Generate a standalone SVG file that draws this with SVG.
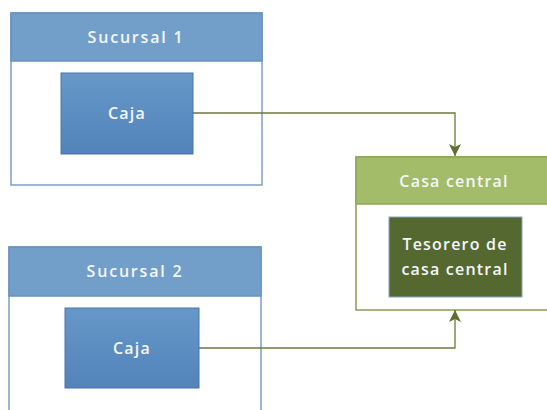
<svg xmlns="http://www.w3.org/2000/svg" width="547" height="410" viewBox="0 0 547 410">
<defs>
<linearGradient id="gb" x1="0" y1="0" x2="0" y2="1">
<stop offset="0" stop-color="#6798c9"/>
<stop offset="1" stop-color="#5283ba"/>
</linearGradient>
<marker id="ah" viewBox="0 0 12 12" refX="12" refY="6" markerWidth="12" markerHeight="12" markerUnits="userSpaceOnUse" orient="auto">
<path d="M0,0 L12,6 L0,12 L3,6 Z" fill="#5f6f30"/>
</marker>
<style>
.outer{fill:#ffffff;stroke:#7f9fc4;stroke-width:1.5}
.hdrb{fill:#729fca;stroke:#6a93bf;stroke-width:1.5}
.caja{fill:url(#gb);stroke:#4a75a8;stroke-width:1}
.outerg{fill:#ffffff;stroke:#8a9a58;stroke-width:1.5}
.hdrg{fill:#a2bc69;stroke:#8ea656;stroke-width:1.5}
.tes{fill:#556830;stroke:#8aa6c0;stroke-width:1}
.t{font-family:"Open Sans","Liberation Sans",sans-serif;font-size:16px;font-weight:600;fill:#f4f6fa;text-anchor:middle;letter-spacing:1.2px}
.h{letter-spacing:1.8px}
.conn{fill:none;stroke:#6b7a3e;stroke-width:1.3}
</style>
</defs>
<g id="sucursal1">
<rect class="outer" x="11" y="13" width="251" height="172"/>
<rect class="hdrb" x="11" y="13" width="251" height="48"/>
<text class="t h" x="136" y="43">Sucursal 1</text>
</g>
<g id="caja1">
<rect class="caja" x="61" y="73" width="132" height="81"/>
<text class="t" x="127" y="119">Caja</text>
</g>
<g id="sucursal2">
<rect class="outer" x="9" y="247" width="252" height="175"/>
<rect class="hdrb" x="9" y="247" width="252" height="49"/>
<text class="t h" x="135" y="277">Sucursal 2</text>
</g>
<g id="caja2">
<rect class="caja" x="65" y="308" width="134" height="80"/>
<text class="t" x="132" y="354">Caja</text>
</g>
<g id="casacentral">
<rect class="outerg" x="356" y="157" width="200" height="153"/>
<rect class="hdrg" x="356" y="157" width="200" height="47"/>
<text class="t" x="454" y="187">Casa central</text>
</g>
<g id="tesorero">
<rect class="tes" x="389" y="217" width="133" height="80"/>
<text class="t" x="455" y="250">Tesorero de</text>
<text class="t" x="455" y="275">casa central</text>
</g>
<g id="connectors">
<path class="conn" d="M193,113 H455 V156" marker-end="url(#ah)"/>
<path class="conn" d="M199,348 H455 V310" marker-end="url(#ah)"/>
</g>
</svg>
